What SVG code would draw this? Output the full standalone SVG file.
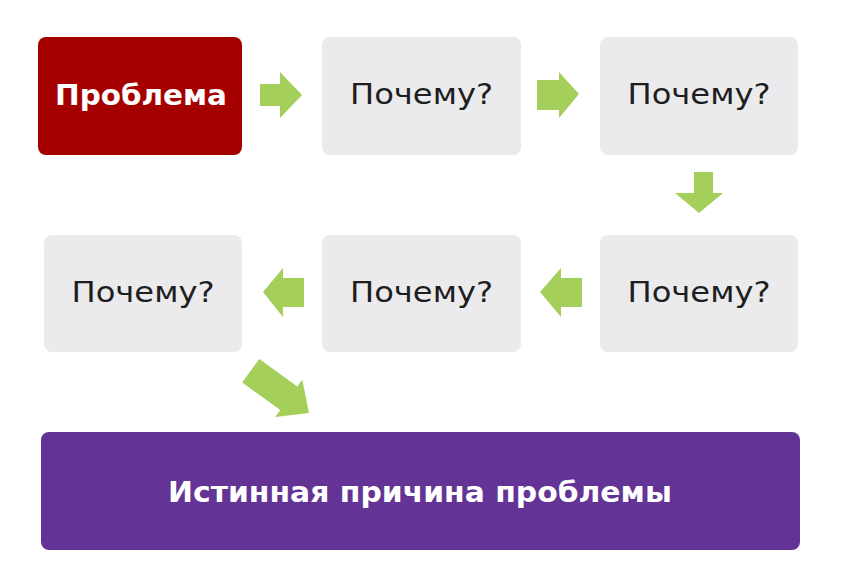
<svg xmlns="http://www.w3.org/2000/svg" width="842" height="572" viewBox="0 0 842 572">
<style>
.q{fill:#EBEBED}
.qt{font-family:"DejaVu Sans","Open Sans",sans-serif;font-size:28px;fill:#1e1e1e;text-anchor:middle}
.bt{font-family:"DejaVu Sans","Open Sans",sans-serif;font-weight:bold;font-size:28px;fill:#fff;text-anchor:middle}
.ar{fill:#A3CF5A}
</style>
<rect width="842" height="572" fill="#fff"/>
<g id="problem"><rect x="38" y="37" width="204" height="118" rx="8" fill="#A50000"/><text class="bt" x="141" y="105" textLength="172" lengthAdjust="spacingAndGlyphs">Проблема</text></g>
<g id="why1"><rect class="q" x="322" y="37" width="199" height="118" rx="8"/><text class="qt" x="421.5" y="104" textLength="143" lengthAdjust="spacingAndGlyphs">Почему?</text></g>
<g id="why2"><rect class="q" x="600" y="37" width="198" height="118" rx="8"/><text class="qt" x="699" y="104" textLength="143" lengthAdjust="spacingAndGlyphs">Почему?</text></g>
<g id="why3"><rect class="q" x="600" y="235" width="198" height="117" rx="8"/><text class="qt" x="699" y="302" textLength="143" lengthAdjust="spacingAndGlyphs">Почему?</text></g>
<g id="why4"><rect class="q" x="322" y="235" width="199" height="117" rx="8"/><text class="qt" x="421.5" y="302" textLength="143" lengthAdjust="spacingAndGlyphs">Почему?</text></g>
<g id="why5"><rect class="q" x="44" y="235" width="198" height="117" rx="8"/><text class="qt" x="143" y="302" textLength="143" lengthAdjust="spacingAndGlyphs">Почему?</text></g>
<g id="root"><rect x="41" y="432" width="759" height="118" rx="8" fill="#633496"/><text class="bt" x="420" y="502" textLength="504" lengthAdjust="spacingAndGlyphs">Истинная причина проблемы</text></g>
<g id="connectors">
<polygon class="ar" points="260,84 280,84 280,72 302,95 280,118 280,106 260,106"/>
<polygon class="ar" points="537,80 559,80 559,72 579,94 559,118 559,110 537,110"/>
<polygon class="ar" points="694,172 713,172 713,193 723,193 699,213 675,193 694,193"/>
<polygon class="ar" points="582,278 561,278 561,268 540,292 561,317 561,307 582,307"/>
<polygon class="ar" points="304,278 283,278 283,268 263,292 283,317 283,307 304,307"/>
<polygon class="ar" transform="translate(309,413) rotate(36)" points="0,0 -25,-23 -25,-14.5 -72,-14.5 -72,14.5 -25,14.5 -25,23"/>
</g>
</svg>
